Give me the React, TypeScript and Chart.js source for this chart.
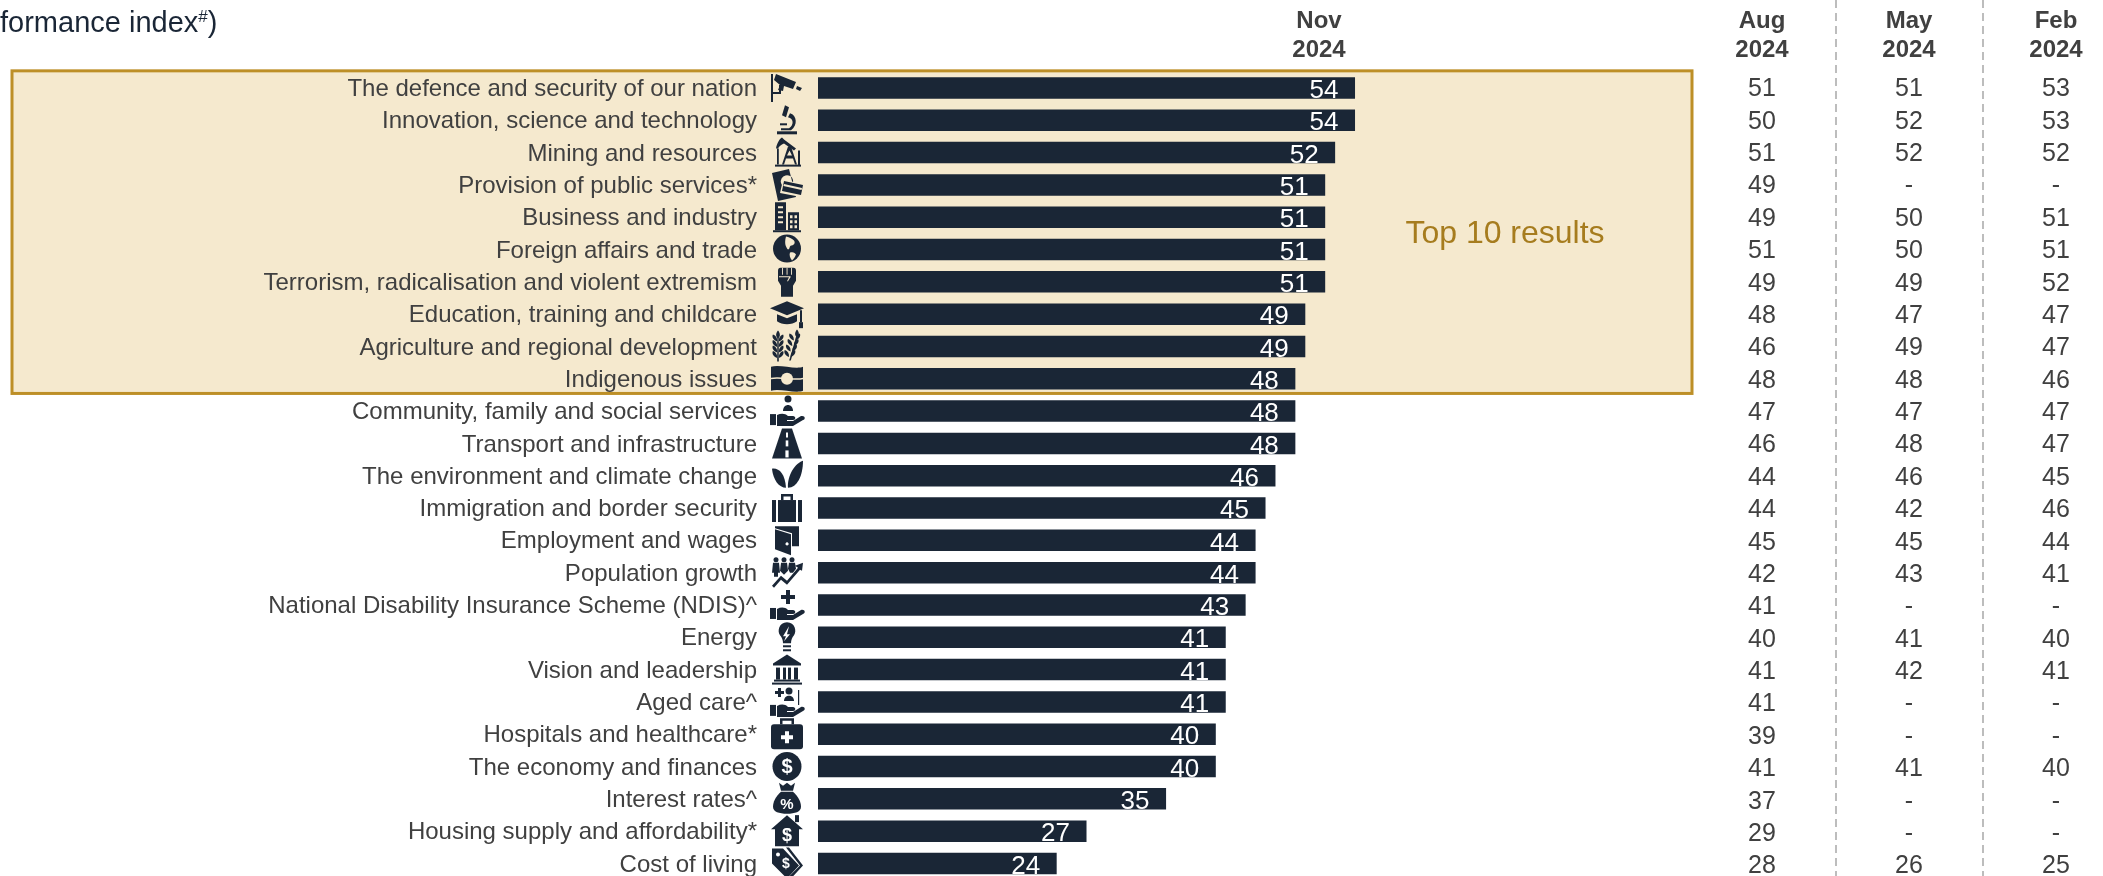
import React, { useEffect, useRef } from "react";
import { Chart, registerables } from "chart.js";

Chart.register(...registerables);

const categories = [
  "The defence and security of our nation",
  "Innovation, science and technology",
  "Mining and resources",
  "Provision of public services*",
  "Business and industry",
  "Foreign affairs and trade",
  "Terrorism, radicalisation and violent extremism",
  "Education, training and childcare",
  "Agriculture and regional development",
  "Indigenous issues",
  "Community, family and social services",
  "Transport and infrastructure",
  "The environment and climate change",
  "Immigration and border security",
  "Employment and wages",
  "Population growth",
  "National Disability Insurance Scheme (NDIS)^",
  "Energy",
  "Vision and leadership",
  "Aged care^",
  "Hospitals and healthcare*",
  "The economy and finances",
  "Interest rates^",
  "Housing supply and affordability*",
  "Cost of living",
];

const nov2024 = [54, 54, 52, 51, 51, 51, 51, 49, 49, 48, 48, 48, 46, 45, 44, 44, 43, 41, 41, 41, 40, 40, 35, 27, 24];
const aug2024 = [51, 50, 51, 49, 49, 51, 49, 48, 46, 48, 47, 46, 44, 44, 45, 42, 41, 40, 41, 41, 39, 41, 37, 29, 28];
const may2024 = [51, 52, 52, null, 50, 50, 49, 47, 49, 48, 47, 48, 46, 42, 45, 43, null, 41, 42, null, null, 41, null, null, 26];
const feb2024 = [53, 53, 52, null, 51, 51, 52, 47, 47, 46, 47, 47, 45, 46, 44, 41, null, 40, 41, null, null, 40, null, null, 25];

const novHeader = ["Nov", "2024"];
const priorColumns = [
  { header: ["Aug", "2024"], values: aug2024 },
  { header: ["May", "2024"], values: may2024 },
  { header: ["Feb", "2024"], values: feb2024 },
];
const highlightCount = 10;
const highlightText = "Top 10 results";

const WIDTH = 2103;
const VIEW_HEIGHT = 876;
const CANVAS_HEIGHT = 900;
const FONT = '"Liberation Sans", Arial, sans-serif';
const NAVY = "#1A2636";
const TEXT = "#404040";
const CREAM = "#F5E9CE";
const GOLD = "#BD8F27";

// Icon parts live on a grid centred on 0,0, one unit to a pixel.
// A leading "!" paints the part in the row's background colour.
const ring = (x: number, y: number, r: number) =>
  `M${x - r} ${y}a${r} ${r} 0 1 0 ${2 * r} 0a${r} ${r} 0 1 0 ${-2 * r} 0z`;

const rect = (x: number, y: number, w: number, h: number) => `M${x} ${y}h${w}v${h}h${-w}z`;

const grainStalk = (x: number, y: number, lean: number) => {
  const parts: string[] = [`M${x - 0.7} ${y - 8}L${x + 0.7} ${y - 8}L${x + 0.8 - lean} ${y + 16}L${x - 0.8 - lean} ${y + 16}z`];
  [0, 1, 2, 3].forEach((k) => {
    const cy = y - 8 + k * 5.5;
    const cx = x - (lean * (k * 5.5 + 8)) / 24;
    parts.push(`M${cx - 0.8} ${cy + 4}C${cx - 6} ${cy + 2} ${cx - 6} ${cy - 2} ${cx - 5} ${cy - 3}C${cx - 2} ${cy - 2} ${cx - 0.8} ${cy} ${cx - 0.8} ${cy + 4}z`);
    parts.push(`M${cx + 0.8} ${cy + 4}C${cx + 6} ${cy + 2} ${cx + 6} ${cy - 2} ${cx + 5} ${cy - 3}C${cx + 2} ${cy - 2} ${cx + 0.8} ${cy} ${cx + 0.8} ${cy + 4}z`);
  });
  parts.push(`M${x} ${y - 15}C${x + 2.5} ${y - 12} ${x + 2.5} ${y - 9} ${x} ${y - 7}C${x - 2.5} ${y - 9} ${x - 2.5} ${y - 12} ${x} ${y - 15}z`);
  return parts;
};

const openHand = [
  rect(-17, 3, 6, 11),
  "M-10 4C-6 2-2 2 1 5H6C9 5 9 9 6 9H0V10H6L14 5C18 4 19 8 16 9L6 15H-10Z",
];

const icons: (string | { t: string; x: number; y: number; s: number })[][] = [
  // defence
  [rect(-16, -14, 2, 28), "M-14 4H-8V-3H-6V6H-14Z", "M-11-14L9-6 6 1-3-2-4 3-9 2-7-3-13-8Z", "M10-2L15 0 13 3 9 1Z"],
  // innovation
  [rect(-10, 11, 20, 3), rect(-7, 3, 7, 2), "M3-7C10-5 11 5 4 10H-6V8H2C7 5 7-2 1-3Z", "M-2-15L2-13-1-3-5-5Z"],
  // mining
  ["M-11-4C-10-10-7-14-5-15L-3-13 9-4 7-2-3-9C-6-8-8-6-9-4Z", rect(-10, -4, 1.8, 16), "M1-6H4L10 12H8L6 6H-1L-3 12H-5ZM2.5-2L0 3H5Z", rect(-12, 12, 26, 2), rect(11, -2, 2, 15)],
  // public services
  ["M-15-12L2-16 9 12-9 16ZM-6-2a6 6 0 1 0 12-3a6 6 0 1 0-12 3z", "!M-4-5L17-1 14 12-7 8Z", "M-3-4L16 0 14 10-5 6Z", "!M-3-1L15 3 14.6 5-3.6 1Z"],
  // business
  ["M-12-15H-1V13H-12ZM-9-11V-9H-4V-11ZM-9-6V-4H-4V-6ZM-9-1V1H-4V-1ZM-9 4V6H-4V4Z", "M1-5H12V13H1ZM3-2V1H5.5V-2ZM7.5-2V1H10V-2ZM3 3V6H5.5V3ZM7.5 3V6H10V3ZM3 8V11H5.5V8ZM7.5 8V11H10V8Z", rect(-14, 13, 28, 2)],
  // foreign affairs
  [ring(0, -1, 14), "!M-1-13C3-12 5-11 7-9 9-6 6-4 4-4 2-3 3 0 1 0-1-2-3-6-1-13Z", "!M3 3C6 2 8 3 9 5 8 8 6 10 5 11 3 8 2 6 3 3Z"],
  // terrorism
  ["M-9-11Q-9-14-6.5-14H6.5Q9-14 9-11V-1L6 4V15H-6V4L-9-1Z", "!M-4.9-14h.9v7h-.9zM-.4-14h.9v7h-.9zM4.1-14h.9v7h-.9z", "!M-8-5.5H3.5V-4.5L1-.5H0L2-4.5H-8Z"],
  // education
  ["M-17-6L0-13 17-6 0 1Z", "M-10 0L0 4 10 0V7C5 11-5 11-10 7Z", rect(13, -4, 2, 12), rect(12, 8, 4, 6)],
  // agriculture
  [...grainStalk(-9, -1, 0), ...grainStalk(10, -2, 7)],
  // indigenous
  ["M-16-12C-8-15 8-9 16-12V12C8 15-8 9-16 12Z", "!M-16-1C-8-3 8 1 16-1V0.5C8 2.5-8-1.5-16 0.5Z", `!${ring(0, 0, 6)}`],
  // community
  [...openHand, ring(1, -12, 3.5), "M-4 0C-4-8 6-8 6 0Z"],
  // transport
  ["M-5-15H5L15 15H-15Z", "!M-1-11h2v5h-2z", "!M-1.3-3h2.6v6h-2.6z", "!M-1.6 7h3.2v7h-3.2z"],
  // environment
  ["M-15-7C-8-8-2-2-1 12-8 12-14 4-15-7Z", "M16-15C16 0 10 12 1 12 0 4 5-11 16-15Z"],
  // immigration
  ["M-15-8H-11V14H-15Z", "M-9-8H9V14H-9Z", "M11-8H15V14H11Z", "M-6-14H6V-8H3.5V-11.5H-3.5V-8H-6Z"],
  // employment
  ["M-12-14H12V6H5V-7L-12-12Z", "M-12-11L4-6V15L-12 9ZM0 2a1.6 1.6 0 1 0 .1 0z"],
  // population
  [ring(-11, -13, 2.5), ring(-3, -13, 2.5), ring(5, -13, 2.5), "M-14-10H-8L-7 0H-9V4H-13V0H-15Z", "M-6-10H0L1-2-3 2-7-2Z", "M2-10H8L9-4 6 0 3 0 1-4Z", "M-15 13L-6 3 0 8 11-5 8-7 16-10 15-2 13-3 0 12-6 7-13 15Z"],
  // disability scheme
  [...openHand, "M-1-15H3V-10H8V-6H3V-1H-1V-6H-6V-10H-1Z"],
  // energy
  ["M0-15C8-15 10-6 7-2 5 0 4 3 4 6H-4C-4 3-5 0-7-2-10-6-8-15 0-15Z", "!M2-11L-4-1H-1L-3 4 3-3H0Z", rect(-4, 8, 8, 2), rect(-4, 12, 8, 2)],
  // vision
  ["M0-15L14-6V-4H-14V-6Z", rect(-11, -2, 4, 12), rect(-4, -2, 3, 12), rect(1, -2, 3, 12), rect(7, -2, 4, 12), rect(-13, 10, 26, 2), rect(-15, 13, 30, 2)],
  // aged care
  [...openHand, ring(2, -11, 3.5), "M-3-1C-3-8 7-8 7-1Z", "M-9-14H-6V-11H-3V-8H-6V-5H-9V-8H-12V-11H-9Z", rect(11, -12, 1.2, 15)],
  // hospitals
  ["M-16-7Q-16-10-13-10H13Q16-10 16-7V12Q16 15 13 15H-13Q-16 15-16 12Z", "M-7-16H7V-10H4.5V-13.5H-4.5V-10H-7Z", "!M-2-3H2V1H6V5H2V9H-2V5H-6V1H-2Z"],
  // economy
  [ring(0, 0, 14.5), { t: "$", x: 0, y: 1, s: 20 }],
  // interest rates
  ["M-8-16L-4-13 0-16 4-13 8-16 6-8H-6Z", "M-6-7H6C12-2 14 4 14 8 14 13 8 15 0 15-8 15-14 13-14 8-14 4-12-2-6-7Z", { t: "%", x: 0, y: 6, s: 15 }],
  // housing
  ["M0-16L16-2H12V15H-12V-2H-16Z", rect(8, -16, 4, 7), { t: "$", x: 0, y: 5, s: 18 }],
  // cost of living
  ["M-15-15H-4L12 2 0 15-15 0ZM-11-9a2 2 0 1 0 4 0a2 2 0 1 0-4 0z", "M-1-16L2-16 16 2 4 15 2 13 13 2Z", { t: "$", x: -1, y: 1, s: 14 }],
];

export default function App() {
  const canvasRef = useRef<HTMLCanvasElement | null>(null);

  useEffect(() => {
    const canvas = canvasRef.current;
    if (!canvas) return;

    const backdrop = {
      id: "backdrop",
      beforeDraw(chart: any) {
        const { ctx } = chart;
        ctx.save();
        ctx.fillStyle = "#FFFFFF";
        ctx.fillRect(0, 0, WIDTH, CANVAS_HEIGHT);
        const yScale = chart.scales.y;
        const step = yScale.getPixelForValue(1) - yScale.getPixelForValue(0);
        const top = yScale.getPixelForValue(0) - step / 2 - 1;
        const bottom = yScale.getPixelForValue(highlightCount - 1) + step / 2 - 1.5;
        ctx.fillStyle = CREAM;
        ctx.fillRect(12, top, 1680, bottom - top);
        ctx.strokeStyle = GOLD;
        ctx.lineWidth = 3;
        ctx.strokeRect(12, top, 1680, bottom - top);

        // Dashed dividers between the earlier survey columns
        ctx.strokeStyle = "#BDBDBD";
        ctx.lineWidth = 2;
        ctx.setLineDash([8, 5]);
        [1836, 1983].forEach((x) => {
          ctx.beginPath();
          ctx.moveTo(x, 0);
          ctx.lineTo(x, VIEW_HEIGHT);
          ctx.stroke();
        });
        ctx.restore();
      },
    };

    const annotations = {
      id: "annotations",
      afterDatasetsDraw(chart: any) {
        const { ctx } = chart;
        const yScale = chart.scales.y;
        const bars = chart.getDatasetMeta(0).data;
        ctx.save();

        // Values at the end of each bar
        ctx.font = `26px ${FONT}`;
        ctx.fillStyle = "#FFFFFF";
        ctx.textAlign = "center";
        ctx.textBaseline = "middle";
        bars.forEach((bar: any, i: number) => {
          ctx.fillText(String(nov2024[i]), bar.x - 31, bar.y + 3);
        });

        // Row icons
        categories.forEach((_, i) => {
          const y = yScale.getPixelForValue(i);
          const bg = i < highlightCount ? CREAM : "#FFFFFF";
          ctx.save();
          ctx.translate(787, y);
          icons[i].forEach((part) => {
            if (typeof part === "string") {
              const cut = part.startsWith("!");
              ctx.fillStyle = cut ? bg : NAVY;
              ctx.fill(new Path2D(cut ? part.slice(1) : part), "evenodd");
            } else {
              ctx.fillStyle = bg;
              ctx.font = `bold ${part.s}px ${FONT}`;
              ctx.fillText(part.t, part.x, part.y);
            }
          });
          ctx.restore();
        });

        // Column headers
        ctx.font = `bold 24px ${FONT}`;
        ctx.fillStyle = TEXT;
        const header = (lines: string[], x: number) => {
          ctx.fillText(lines[0], x, 21);
          ctx.fillText(lines[1], x, 50);
        };
        header(novHeader, 1319);
        const columnX = [1762, 1909, 2056];
        priorColumns.forEach((col, c) => header(col.header, columnX[c]));

        // Earlier survey values
        ctx.font = `25px ${FONT}`;
        priorColumns.forEach((col, c) => {
          col.values.forEach((v, i) => {
            const y = yScale.getPixelForValue(i) + 1.5 + i * 0.06;
            ctx.fillText(v === null ? "-" : String(v), columnX[c], y);
          });
        });

        // Highlight caption
        ctx.font = `32px ${FONT}`;
        ctx.fillStyle = "#A67C1E";
        ctx.fillText(highlightText, 1505, 234.5);

        // Chart heading, running off the left edge
        ctx.font = `29px ${FONT}`;
        ctx.fillStyle = NAVY;
        ctx.textAlign = "left";
        ctx.fillText("formance index", 0, 24);
        const w = ctx.measureText("formance index").width;
        ctx.font = `17px ${FONT}`;
        ctx.fillText("#", w, 17);
        const w2 = ctx.measureText("#").width;
        ctx.font = `29px ${FONT}`;
        ctx.fillText(")", w + w2, 24);
        ctx.restore();
      },
    };

    const chart = new Chart(canvas, {
      type: "bar",
      data: {
        labels: categories,
        datasets: [
          {
            data: nov2024,
            backgroundColor: NAVY,
            borderWidth: 0,
            categoryPercentage: 1,
            barPercentage: 0.665,
          },
        ],
      },
      options: {
        indexAxis: "y",
        animation: false,
        responsive: false,
        maintainAspectRatio: false,
        devicePixelRatio: 1,
        layout: { padding: { left: 0, top: 71.84, right: WIDTH - 1414.7, bottom: CANVAS_HEIGHT - 879.6 } },
        plugins: { legend: { display: false }, tooltip: { enabled: false } },
        scales: {
          x: { display: false, min: 0, max: 60 },
          y: {
            // The gap between labels and bars is the (invisible) tick length,
            // because tick padding would also inset the axis vertically.
            grid: { display: false, drawTicks: true, tickLength: 61 },
            border: { display: false },
            afterFit(scale: any) {
              scale.width = 818;
            },
            ticks: {
              autoSkip: false,
              padding: 0,
              labelOffset: 1.5,
              color: TEXT,
              font: { family: FONT, size: 24 },
            },
          },
        },
      },
      plugins: [backdrop, annotations],
    } as any);

    return () => chart.destroy();
  }, []);

  return (
    <div style={{ position: "fixed", left: 0, top: 0, width: WIDTH, height: VIEW_HEIGHT, overflow: "hidden", background: "#fff" }}>
      <canvas ref={canvasRef} width={WIDTH} height={CANVAS_HEIGHT} style={{ display: "block" }} />
    </div>
  );
}
